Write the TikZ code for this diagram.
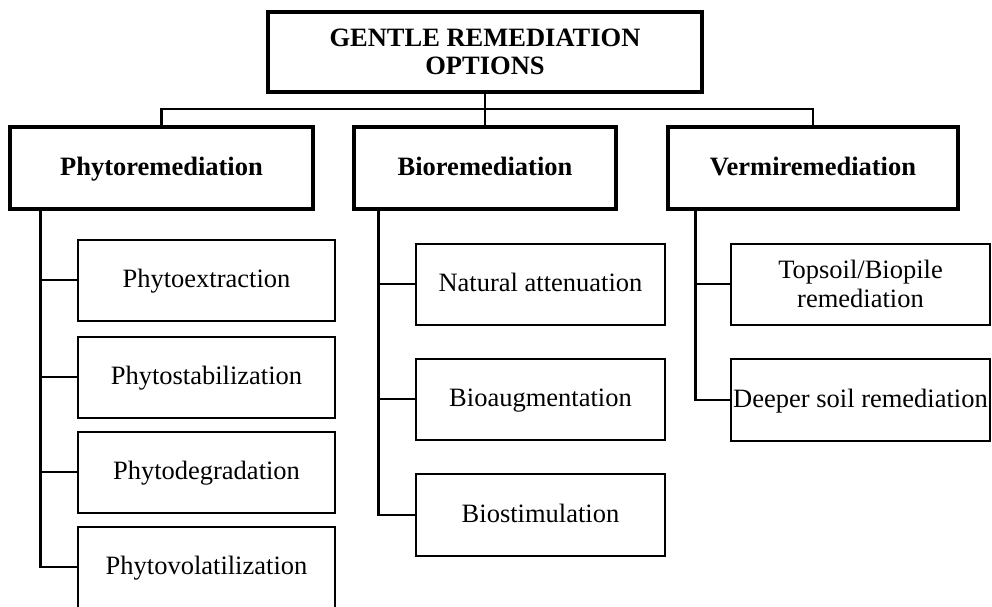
\documentclass[tikz,border=0pt]{standalone}
\usepackage{fontspec}
\setmainfont{Liberation Serif}
\begin{document}
\begin{tikzpicture}[x=1pt,y=-1pt,
  mainbox/.style={draw=black, line width=3.2pt, rectangle, inner sep=0pt, align=center,
    font=\fontsize{26.5}{27.5}\selectfont\bfseries},
  kidbox/.style={draw=black, line width=2pt, rectangle, inner sep=0pt, align=center,
    font=\fontsize{26.5}{28.5}\selectfont},
  oneline/.style={text height=20.7pt, text depth=5.8pt},
  link/.style={draw=black, line width=2.4pt}
]
\useasboundingbox (0,0) rectangle (992,606);
% top
\node[mainbox, minimum width=434pt, minimum height=80pt] (top) at (485,52) {GENTLE REMEDIATION\\OPTIONS};
% level 1
\node[mainbox, oneline, minimum width=303pt, minimum height=82pt] (phyto) at (161.5,168) {Phytoremediation};
\node[mainbox, oneline, minimum width=262pt, minimum height=82pt] (bio) at (485,168) {Bioremediation};
\node[mainbox, oneline, minimum width=290pt, minimum height=82pt] (vermi) at (813,168) {Vermiremediation};
% phyto children
\node[kidbox, oneline, minimum width=257pt, minimum height=81pt] (p1) at (206.5,280) {Phytoextraction};
\node[kidbox, oneline, minimum width=257pt, minimum height=81pt] (p2) at (206.5,377) {Phytostabilization};
\node[kidbox, oneline, minimum width=257pt, minimum height=81pt] (p3) at (206.5,472) {Phytodegradation};
\node[kidbox, oneline, minimum width=257pt, minimum height=81pt] (p4) at (206.5,567) {Phytovolatilization};
% bio children
\node[kidbox, oneline, minimum width=249pt, minimum height=81pt] (b1) at (540.5,284) {Natural attenuation};
\node[kidbox, oneline, minimum width=249pt, minimum height=81pt] (b2) at (540.5,399) {Bioaugmentation};
\node[kidbox, oneline, minimum width=249pt, minimum height=82pt] (b3) at (540.5,515) {Biostimulation};
% vermi children
\node[kidbox, minimum width=259pt, minimum height=81pt] (v1) at (860.5,284) {Topsoil/Biopile\\remediation};
\node[kidbox, oneline, minimum width=259pt, minimum height=82pt] (v2) at (860.5,400) {Deeper soil remediation};
% bus
\coordinate (bus) at (485,109);
\draw[link] (top.south) -- (top.south |- bio.north);
\draw[link] (phyto.north) -- (phyto.north |- bus) -- (vermi.north |- bus) -- (vermi.north);
% branches
\coordinate (pb) at ([xshift=32pt]phyto.south west);
\coordinate (bb) at ([xshift=26pt]bio.south west);
\coordinate (vb) at ([xshift=29pt]vermi.south west);
\draw[link] (pb) |- (p4.west);
\draw[link] (pb |- p1.west) -- (p1.west);
\draw[link] (pb |- p2.west) -- (p2.west);
\draw[link] (pb |- p3.west) -- (p3.west);
\draw[link] (bb) |- (b3.west);
\draw[link] (bb |- b1.west) -- (b1.west);
\draw[link] (bb |- b2.west) -- (b2.west);
\draw[link] (vb) |- (v2.west);
\draw[link] (vb |- v1.west) -- (v1.west);
\end{tikzpicture}
\end{document}
